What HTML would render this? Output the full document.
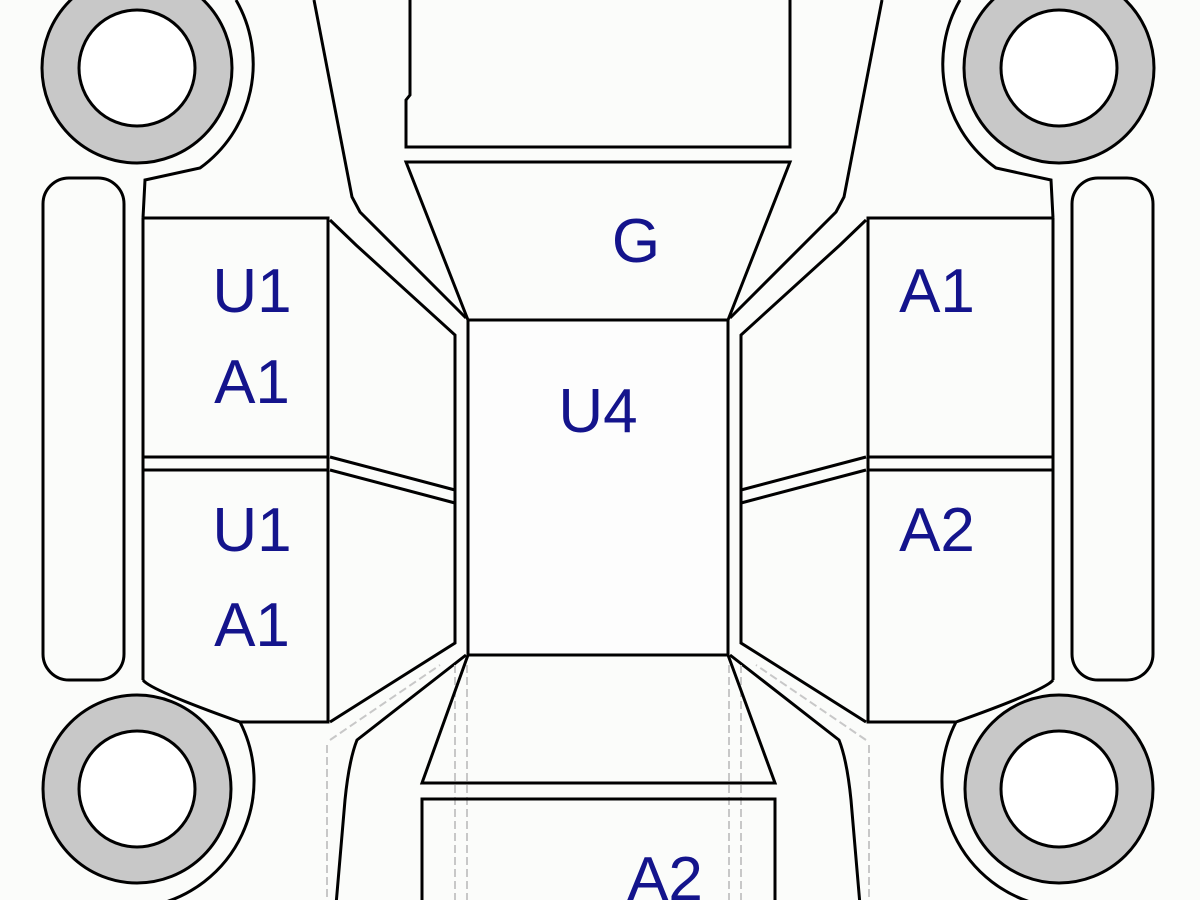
<!DOCTYPE html>
<html><head><style>
html,body{margin:0;padding:0;background:#fbfcfa;}
svg{display:block;}
text{font-family:"Liberation Sans",sans-serif;font-size:62px;fill:#14148c;text-anchor:middle;}
</style></head><body>
<svg width="1200" height="900" viewBox="0 0 1200 900">
<rect width="1200" height="900" fill="#fbfcfa"/>
<g id="half" fill="none" stroke="#000" stroke-width="3">
  <!-- wheels -->
  <circle cx="137" cy="68" r="76" stroke="#c8c8c8" stroke-width="37"/>
  <circle cx="137" cy="68" r="95"/>
  <circle cx="137" cy="68" r="58" fill="#fff"/>
  <circle cx="137" cy="789" r="76" stroke="#c8c8c8" stroke-width="37"/>
  <circle cx="137" cy="789" r="94"/>
  <circle cx="137" cy="789" r="58" fill="#fff"/>
  <!-- wheel well arcs -->
  <path d="M236,0 A128,128 0 0 1 200,168 L145,180 L143,218"/>
  <path d="M143,680 Q150,690 240,722 A128,128 0 0 1 155,905"/>
  <!-- bumper pill -->
  <rect x="43" y="178" width="81" height="502" rx="26"/>
  <!-- side panel -->
  <path d="M143,218 L328,218 L328,722 L240,722"/>
  <line x1="143" y1="218" x2="143" y2="680"/>
  <line x1="143" y1="457" x2="328" y2="457"/>
  <line x1="143" y1="470" x2="328" y2="470"/>
  <!-- diagonals -->
  <path d="M330,220 L356,245 L455,335 L455,643 L330,722"/>
  <path d="M314,0 L352,197 L360,212 L466,318"/>
  <path d="M330,457 L455,490"/>
  <path d="M330,470 L455,503"/>
  <path d="M466,655 L357,740 Q349,760 345,800 L336,905"/>
  <!-- faint dashed -->
  <path d="M330,740 L440,665 M327,745 L327,900 M455,665 L455,900 M467,665 L467,900" stroke="#c8c8c8" stroke-width="2" stroke-dasharray="8 4"/>
</g>
<use href="#half" transform="translate(1196,0) scale(-1,1)"/>
<g fill="none" stroke="#000" stroke-width="3">
  <path d="M410,0 L410,95 L406,100 L406,147 L790,147 L790,0"/>
  <path d="M406,162 L790,162 L728,320 L468,320 Z"/>
  <rect x="468" y="320" width="260" height="335" fill="#fdfdfd"/>
  <path d="M468,655 L422,783 L775,783 L728,655"/>
  <path d="M422,905 L422,799 L775,799 L775,905"/>
</g>
<text x="636" y="262">G</text>
<text x="252" y="312">U1</text>
<text x="252" y="403">A1</text>
<text x="252" y="551">U1</text>
<text x="252" y="646">A1</text>
<text x="598" y="432">U4</text>
<text x="937" y="312">A1</text>
<text x="937" y="551">A2</text>
<text x="665" y="900">A2</text>
</svg>
</body></html>
